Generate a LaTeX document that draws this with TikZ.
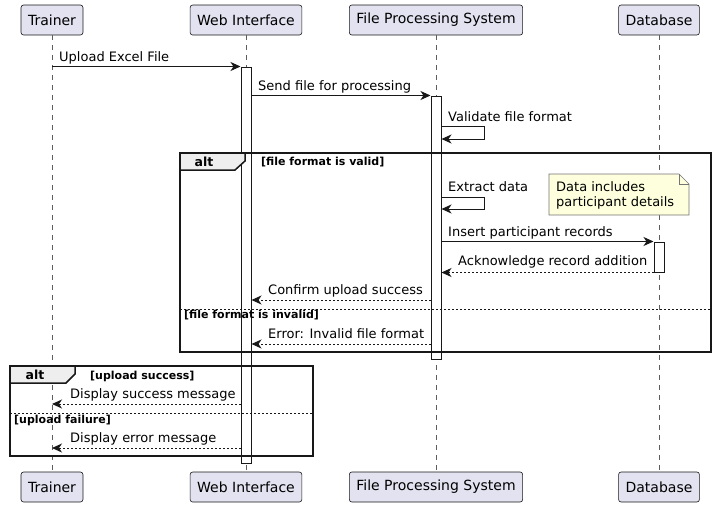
\documentclass[tikz,border=0pt]{standalone}
\usepackage{fontspec}
\setmainfont{DejaVu Sans}
\usetikzlibrary{arrows.meta}
\definecolor{partfill}{HTML}{E2E2F0}
\definecolor{umlline}{HTML}{181818}
\definecolor{tabfill}{HTML}{EEEEEE}
\definecolor{notefill}{HTML}{FEFFDD}
\tikzset{
  actor/.style={draw=umlline, fill=partfill, rounded corners=2.5pt, minimum height=30pt,
    inner xsep=7pt, line width=0.6pt, font=\fontsize{14}{16}\selectfont},
  lifeline/.style={draw=umlline!70, line width=0.6pt, dash pattern=on 5pt off 5pt},
  actbar/.style={draw=umlline, fill=white, minimum width=10pt, inner sep=0pt, line width=1pt},
  msg/.style={draw=umlline, line width=1pt, -{Stealth[length=10pt,width=9pt,inset=3pt]}},
  reply/.style={msg, dash pattern=on 2pt off 2pt},
  msglabel/.style={anchor=base west, inner sep=0pt, font=\fontsize{13}{15}\selectfont},
  frame/.style={draw=umlline, line width=1.5pt},
  tab/.style={frame, fill=tabfill},
  guard/.style={anchor=base west, inner sep=0pt, font=\bfseries\fontsize{11}{13}\selectfont},
  altlabel/.style={anchor=base, inner sep=0pt, font=\bfseries\fontsize{12.5}{14}\selectfont},
  sep/.style={draw=umlline, line width=1pt, dash pattern=on 2pt off 2pt},
  note/.style={draw=umlline!60, fill=notefill, line width=0.6pt},
}
\begin{document}
\begin{tikzpicture}[x=1pt, y=-1pt]
	\useasboundingbox (0,0) rectangle (716,507);
	% participants
	\node[actor] (tr) at (52,20) {Trainer};
	\node[actor] (wi) at (246,20) {Web Interface};
	\node[actor] (fp) at (436,20) {File Processing System};
	\node[actor] (db) at (659,20) {Database};
	\node[actor] (trb) at (52,487) {Trainer};
	\node[actor] (wib) at (246,487) {Web Interface};
	\node[actor] (fpb) at (436,487) {File Processing System};
	\node[actor] (dbb) at (659,487) {Database};
	\draw[lifeline] (tr) -- (trb);
	\draw[lifeline] (wi) -- (wib);
	\draw[lifeline] (fp) -- (fpb);
	\draw[lifeline] (db) -- (dbb);
	% activations
	\node[actbar, minimum height=396pt] (wa) at (246,265) {};
	\node[actbar, minimum height=263pt] (fa) at (436,227.5) {};
	\node[actbar, minimum height=30pt] (da) at (659,257) {};
	% rows
	\coordinate (r3) at (0,126);
	\coordinate (r4) at (0,197);
	\coordinate (r7) at (0,300);
	\coordinate (r8) at (0,344);
	\coordinate (r9) at (0,404);
	\coordinate (r10) at (0,448);
	% alt frames
	\draw[frame] (180,153) rectangle (711,352);
	\draw[tab] (180,153) -- (245,153) -- (245,161) -- (235,170) -- (180,170) -- cycle;
	\node[altlabel] (alt1) at (204,166) {alt};
	\node[guard] (g1) at (261,165) {[file format is valid]};
	\draw[sep] (180,309) -- (711,309);
	\node[guard] (g2) at (184,318) {[file format is invalid]};
	\draw[frame] (10,366) rectangle (313,456);
	\draw[tab] (10,366) -- (75,366) -- (75,374) -- (66,383) -- (10,383) -- cycle;
	\node[altlabel] (alt2) at (35,379) {alt};
	\node[guard] (g3) at (90,379) {[upload success]};
	\draw[sep] (10,413) -- (313,413);
	\node[guard] (g4) at (14,423) {[upload failure]};
	% note
	\draw[note] (549,174) -- (679,174) -- (689,184) -- (689,215) -- (549,215) -- cycle;
	\draw[note, fill=none] (679,174) -- (679,184) -- (689,184);
	\node[anchor=north west, inner sep=0pt, align=left, font=\fontsize{13}{15}\selectfont]
		(nt) at (556,181) {Data includes\\participant details};
	% messages
	\draw[msg] (tr |- wa.north) -- (wa.north west);
	\node[msglabel] (l1) at (59,61) {Upload Excel File};
	\draw[msg] (wa.east |- fa.north) -- (fa.north west);
	\node[msglabel] (l2) at (258,90) {Send file for processing};
	\draw[msg] (fa.east |- r3) -- ++(43,0) -- ++(0,13) -- ++(-43,0);
	\node[msglabel] (l3) at (448,121) {Validate file format};
	\draw[msg] (fa.east |- r4) -- ++(43,0) -- ++(0,12) -- ++(-43,0);
	\node[msglabel] (l4) at (448,191) {Extract data};
	\draw[msg] (fa.east |- da.north) -- (da.north west);
	\node[msglabel] (l5) at (448,236) {Insert participant records};
	\draw[reply] (da.south west) -- (fa.east |- da.south);
	\node[msglabel] (l6) at (458,265) {Acknowledge record addition};
	\draw[reply] (fa.west |- r7) -- (wa.east |- r7);
	\node[msglabel] (l7) at (268,294) {Confirm upload success};
	\draw[reply] (fa.west |- r8) -- (wa.east |- r8);
	\node[msglabel] (l8) at (268,338) {Error: Invalid file format};
	\draw[reply] (wa.west |- r9) -- (tr |- r9);
	\node[msglabel] (l9) at (70,398) {Display success message};
	\draw[reply] (wa.west |- r10) -- (tr |- r10);
	\node[msglabel] (l10) at (70,442) {Display error message};
\end{tikzpicture}
\end{document}
